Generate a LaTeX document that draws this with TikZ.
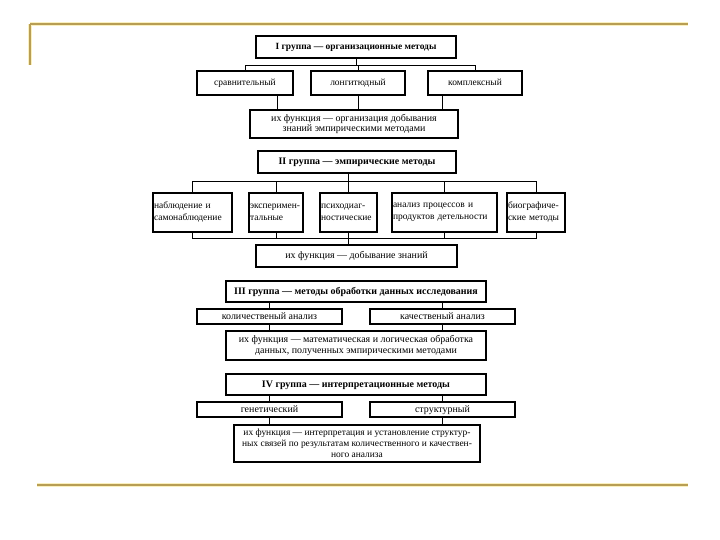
\documentclass[tikz,border=0pt]{standalone}
\usepackage{fontspec}
\setmainfont{Liberation Serif}
\usepackage{tikz}
\usetikzlibrary{positioning}
\definecolor{slidegold}{RGB}{184,158,84}
\definecolor{slideglow}{RGB}{250,240,190}

\begin{document}
\begin{tikzpicture}[x=1bp, y=-1bp, line width=0.8bp,
    every node/.style={font=\fontsize{10}{11}\selectfont},
    box/.style={draw, line width=1.1bp, inner sep=1bp, align=center},
    one/.style={box, text height=1.6ex, text depth=0.5ex},
    title/.style={one, font=\fontsize{10}{11}\selectfont\bfseries},
    wire/.style={line width=0.8bp}]
  \useasboundingbox (0,0) rectangle (720,540);
  % slide rules
  \draw[slideglow, line width=4bp] (30,24) -- (688,24) (30,24) -- (30,65) (37,485) -- (688,485);
  \draw[slidegold, line width=2bp] (30,24) -- (688,24) (30,24) -- (30,65) (37,485) -- (688,485);

  % I group
  \node[title, minimum width=200bp, minimum height=22bp, font=\fontsize{9.5}{11}\selectfont\bfseries] (g1) at (356,47) {I группа --- организационные методы};
  \node[one, minimum width=96bp, minimum height=24bp, font=\fontsize{9.5}{11}\selectfont] (a1) at (245,83) {сравнительный};
  \node[one, minimum width=94bp, minimum height=24bp, font=\fontsize{9.5}{11}\selectfont] (a2) at (358,83) {лонгитюдный};
  \node[one, minimum width=94bp, minimum height=24bp, font=\fontsize{9.5}{11}\selectfont] (a3) at (475,83) {комплексный};
  \node[box, minimum width=208bp, minimum height=28bp] (f1) at (354,124)
    {их функция --- организация добывания\\знаний эмпирическими методами};
  \draw[wire] (g1.south) -- (g1.south |- 0,66);
  \draw[wire] (a1.north) -- ++(0,-5) -| (a3.north);
  \draw[wire] (a2.north) -- ++(0,-5);
  \draw[wire] ([xshift=32bp]a1.south) -- ([xshift=32bp]a1.south |- f1.north);
  \draw[wire] (a2.south) -- (a2.south |- f1.north);
  \draw[wire] ([xshift=-33bp]a3.south) -- ([xshift=-33bp]a3.south |- f1.north);

  % II group
  \node[title, minimum width=198bp, minimum height=22bp] (g2) at (357,162) {II группа --- эмпирические методы};
  \foreach \n/\x/\w/\t in {b1/192.5/79/{наблюдение и\\самонаблюдение},
                           b2/276/54/{эксперимен-\\тальные},
                           b3/348.5/57/{психодиаг-\\ностические},
                           b4/444.5/105/{анализ процессов и\\продуктов детельности},
                           b5/536/58/{биографиче-\\ские методы}} {
    \node[box, align=left, inner sep=1bp, text width=\w bp-2bp, minimum height=39bp,
          font=\fontsize{9.5}{12}\selectfont] (\n) at (\x,212.5) {\t};
  }
  \node[one, minimum width=201bp, minimum height=22bp] (f2) at (356.5,256) {их функция --- добывание знаний};
  \draw[wire] (g2.south -| b3.north) -- (b3.north);
  \draw[wire] (b1.north) -- ++(0,-11) -| (b5.north);
  \draw[wire] (b1.south) -- ++(0,6) -| (b5.south);
  \foreach \n in {b2,b4} {
    \draw[wire] (\n.north) -- ++(0,-11);
    \draw[wire] (\n.south) -- ++(0,6);
  }
  \draw[wire] (b3.south) -- (b3.south |- f2.north);

  % III group
  \node[title, minimum width=260bp, minimum height=21bp] (g3) at (356,291.5) {III группа --- методы обработки данных исследования};
  \node[one, minimum width=145bp, minimum height=15bp, inner sep=0pt] (c1) at (269.5,316.5) {количественый анализ};
  \node[one, minimum width=145bp, minimum height=15bp, inner sep=0pt] (c2) at (442.5,316.5) {качественый анализ};
  \node[box, minimum width=260bp, minimum height=29bp] (f3) at (356,345.5)
    {их функция --- математическая и логическая обработка\\данных, полученных эмпирическими методами};
  \foreach \n in {c1,c2} {
    \draw[wire] (\n.north |- g3.south) -- (\n.north);
    \draw[wire] (\n.south) -- (\n.south |- f3.north);
  }

  % IV group
  \node[title, minimum width=260bp, minimum height=21bp] (g4) at (356,384.5) {IV группа --- интерпретационные методы};
  \node[one, minimum width=145bp, minimum height=15bp, inner sep=0pt] (d1) at (269.5,409.5) {генетический};
  \node[one, minimum width=145bp, minimum height=15bp, inner sep=0pt] (d2) at (442.5,409.5) {структурный};
  \node[box, minimum width=246bp, minimum height=37bp, font=\fontsize{9.5}{11}\selectfont] (f4) at (357,443.5)
    {их функция --- интерпретация и установление структур-\\ных связей по результатам количественного и качествен-\\ного анализа};
  \foreach \n in {d1,d2} {
    \draw[wire] (\n.north |- g4.south) -- (\n.north);
    \draw[wire] (\n.south) -- (\n.south |- f4.north);
  }
\end{tikzpicture}
\end{document}
